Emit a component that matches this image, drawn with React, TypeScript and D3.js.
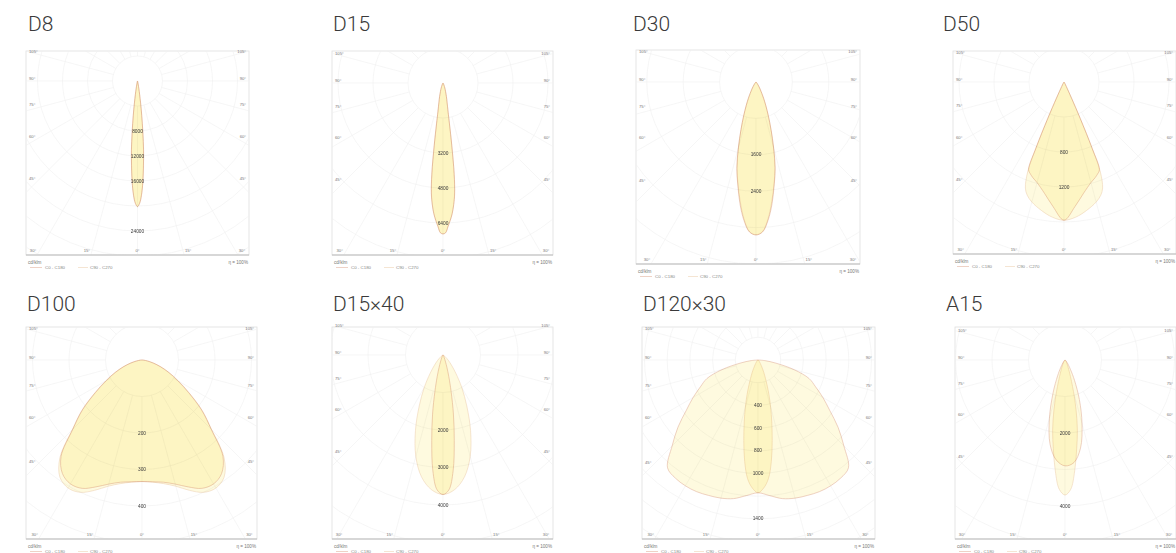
import React from 'react';
import * as d3 from 'd3';

// ---------------- data ----------------
const titles = ['D8', 'D15', 'D30', 'D50', 'D100', 'D15×40', 'D120×30', 'A15'];

// D8
const d8Angles = [0, 1, 2, 3, 4, 5, 6, 7, 8, 9, 10, 12, 15, 20, 30, 45, 60, 90];
const d8C0 = [20100, 19600, 18300, 16200, 13600, 11200, 8200, 5600, 3600, 2200, 1300, 500, 200, 80, 30, 10, 4, 0];
const d8C90 = [20100, 19500, 18200, 16300, 13800, 11000, 8000, 5500, 3500, 2100, 1250, 480, 190, 75, 28, 9, 3, 0];
const d8Ticks = [8000, 12000, 16000, 24000];

// D15
const d15Angles = [0, 1, 2, 3, 4, 5, 6, 7, 8, 9, 10, 12, 14, 17, 20, 25, 30, 45, 60, 90];
const d15C0 = [6900, 6850, 6570, 6300, 6000, 5600, 5100, 4200, 2900, 1900, 1350, 900, 650, 400, 250, 100, 40, 10, 3, 0];
const d15C90 = [6900, 6840, 6560, 6280, 5980, 5580, 5050, 4150, 2850, 1880, 1330, 880, 640, 390, 240, 95, 38, 9, 3, 0];
const d15Ticks = [3200, 4800, 6400];

// D30
const d30Angles = [0, 2.5, 5, 7.5, 10, 12.5, 15, 17.5, 20, 22.5, 25, 30, 35, 40, 50, 60, 90];
const d30C0 = [3360, 3300, 3050, 2700, 2300, 1950, 1500, 1100, 800, 570, 400, 180, 80, 35, 10, 3, 0];
const d30C90 = [3360, 3290, 3020, 2650, 2280, 1920, 1480, 1090, 790, 560, 390, 175, 78, 34, 10, 3, 0];
const d30Ticks = [1600, 2400];

// D50
const d50Angles = [0, 5, 10, 15, 18, 20, 22, 23, 24, 25, 27, 30, 40, 90];
const d50C0 = [1580, 1430, 1290, 1190, 1150, 1120, 1080, 820, 460, 200, 60, 20, 5, 0];
const d50C90 = [1580, 1550, 1490, 1420, 1360, 1290, 1110, 820, 460, 210, 60, 20, 5, 0];
const d50Ticks = [800, 1200];

// D100
const d100Angles = [0, 5, 10, 15, 20, 25, 30, 35, 40, 45, 50, 55, 60, 65, 70, 75, 80, 85, 90];
const d100C0 = [333, 335, 340, 352, 370, 388, 392, 380, 345, 268, 215, 158, 115, 82, 55, 32, 15, 5, 0];
const d100C90 = [333, 336, 344, 358, 380, 400, 405, 392, 350, 270, 212, 155, 112, 80, 53, 31, 14, 5, 0];
const d100Ticks = [200, 300, 400];

// D15x40
const d1540AnglesC0 = [0, 2.5, 5, 7.5, 10, 12.5, 15, 17.5, 20, 25, 30, 40, 60, 90];
const d1540C0 = [3720, 3600, 3100, 2300, 1600, 1000, 600, 350, 200, 80, 30, 10, 2, 0];
const d1540AnglesC90 = [0, 5, 10, 15, 20, 25, 30, 35, 40, 45, 50, 60, 70, 90];
const d1540C90 = [3720, 3600, 3300, 2800, 2150, 1500, 1000, 600, 350, 200, 100, 30, 10, 0];
const d1540Ticks = [2000, 3000, 4000];

// D120x30
const d12030AnglesC0 = [0, 5, 10, 15, 20, 25, 30, 35, 40, 45, 50, 55, 60, 65, 70, 75, 80, 85, 90];
const d12030C0 = [1170, 1200, 1240, 1260, 1270, 1280, 1280, 1270, 1240, 1070, 920, 770, 660, 560, 480, 330, 160, 60, 0];
const d12030AnglesC90 = [0, 2.5, 5, 7.5, 10, 12.5, 15, 17.5, 20, 25, 30, 40, 60, 90];
const d12030C90 = [1170, 1130, 1050, 900, 720, 560, 430, 320, 230, 120, 60, 20, 5, 0];
const d12030Ticks = [400, 600, 800, 1000, 1400];

// A15 (asymmetric)
const a15AnglesC0 = [0, 5, 10, 15, 20, 25, 30, 40, 60, 90];
const a15C0Right = [2900, 2820, 2450, 1800, 1150, 620, 300, 90, 15, 0];
const a15C0Left = [2900, 2750, 2350, 1650, 950, 480, 230, 60, 10, 0];
const a15AnglesC90 = [0, 2.5, 5, 7.5, 10, 12.5, 15, 20, 30, 45, 90];
const a15C90 = [3700, 3550, 3050, 2450, 1950, 1400, 900, 350, 90, 20, 0];
const a15Ticks = [2000, 4000];

const sideAngleLabels = [105, 90, 75, 60, 45];
const bottomAngleLabels = [-30, -15, 0, 15, 30];
const legendC0 = 'C0 - C180';
const legendC90 = 'C90 - C270';
const unitLabel = 'cd/klm';
const effLabel = 'η = 100%';

type Series = { angles: number[]; right: number[]; left?: number[] };

const panelSeries: { c0: Series; c90: Series; ticks: number[] }[] = [
  { c0: { angles: d8Angles, right: d8C0 }, c90: { angles: d8Angles, right: d8C90 }, ticks: d8Ticks },
  { c0: { angles: d15Angles, right: d15C0 }, c90: { angles: d15Angles, right: d15C90 }, ticks: d15Ticks },
  { c0: { angles: d30Angles, right: d30C0 }, c90: { angles: d30Angles, right: d30C90 }, ticks: d30Ticks },
  { c0: { angles: d50Angles, right: d50C0 }, c90: { angles: d50Angles, right: d50C90 }, ticks: d50Ticks },
  { c0: { angles: d100Angles, right: d100C0 }, c90: { angles: d100Angles, right: d100C90 }, ticks: d100Ticks },
  { c0: { angles: d1540AnglesC0, right: d1540C0 }, c90: { angles: d1540AnglesC90, right: d1540C90 }, ticks: d1540Ticks },
  { c0: { angles: d12030AnglesC0, right: d12030C0 }, c90: { angles: d12030AnglesC90, right: d12030C90 }, ticks: d12030Ticks },
  { c0: { angles: a15AnglesC0, right: a15C0Right, left: a15C0Left }, c90: { angles: a15AnglesC90, right: a15C90 }, ticks: a15Ticks },
];

// ---------------- layout ----------------
const layout = [
  { tx: 28, ty: 31, x: 26, y: 51, w: 223, h: 204, cx: 137.5, cy: 81, step: 4000, stepPx: 25 },
  { tx: 333, ty: 31, x: 332, y: 51, w: 221, h: 204, cx: 443, cy: 83, step: 1600, stepPx: 35 },
  { tx: 633, ty: 31, x: 636, y: 50, w: 224, h: 214, cx: 756, cy: 82, step: 800, stepPx: 36.4 },
  { tx: 943, ty: 31, x: 953, y: 51, w: 223, h: 203, cx: 1064, cy: 82, step: 400, stepPx: 35 },
  { tx: 27, ty: 311, x: 26, y: 327, w: 231, h: 212, cx: 142, cy: 360, step: 100, stepPx: 36.5 },
  { tx: 333, ty: 311, x: 332, y: 327, w: 221, h: 212, cx: 443, cy: 355, step: 1000, stepPx: 37.5 },
  { tx: 643, ty: 311, x: 642, y: 327, w: 233, h: 212, cx: 758, cy: 360, step: 200, stepPx: 22.7 },
  { tx: 946, ty: 311, x: 955, y: 327, w: 221, h: 212, cx: 1065, cy: 360, step: 1000, stepPx: 36.5 },
];

const FILL = '#fefadf';
const STROKE_C0 = '#e2b4a0';
const STROKE_C90 = '#efd3b6';
const GRID = '#f0f0f0';
const SMALL_FONT = '"Liberation Sans", Arial, sans-serif';

type Pt = { a: number; v: number };

function buildPoints(s: Series): Pt[] {
  const left = s.left ?? s.right;
  const pts: Pt[] = [];
  for (let i = s.angles.length - 1; i >= 1; i--) pts.push({ a: -s.angles[i], v: left[i] });
  for (let i = 0; i < s.angles.length; i++) pts.push({ a: s.angles[i], v: s.right[i] });
  return pts;
}

function Panel({ idx }: { idx: number }) {
  const L = layout[idx];
  const S = panelSeries[idx];
  const r = d3.scaleLinear().domain([0, L.step]).range([0, L.stepPx]);
  const line = d3
    .lineRadial<Pt>()
    .angle((p) => Math.PI - (p.a * Math.PI) / 180)
    .radius((p) => r(p.v))
    .curve(d3.curveCatmullRom.alpha(0.5));
  const right = L.x + L.w;
  const bottom = L.y + L.h;
  const maxD = Math.max(
    Math.hypot(L.x - L.cx, L.y - L.cy),
    Math.hypot(right - L.cx, L.y - L.cy),
    Math.hypot(L.x - L.cx, bottom - L.cy),
    Math.hypot(right - L.cx, bottom - L.cy)
  );
  const nCircles = Math.ceil(maxD / L.stepPx);
  const circles = d3.range(1, nCircles + 1);
  const radials = d3.range(0, 360, 15);
  const clipId = `clip-${idx}`;
  const hw = L.w / 2;
  const sideL = hw - 11;
  const pathC0 = (line(buildPoints(S.c0)) ?? '') + 'Z';
  const pathC90 = (line(buildPoints(S.c90)) ?? '') + 'Z';

  return (
    <g>
      <text x={L.tx} y={L.ty} fontFamily="Roboto, sans-serif" fontWeight={300} fontSize={21} fill="#3a3a3a">
        {titles[idx]}
      </text>
      <defs>
        <clipPath id={clipId}>
          <rect x={L.x} y={L.y} width={L.w} height={L.h} />
        </clipPath>
      </defs>
      <rect x={L.x} y={L.y} width={L.w} height={L.h} fill="#fff" stroke="#dedede" strokeWidth={0.8} />
      <g clipPath={`url(#${clipId})`}>
        <g transform={`translate(${L.cx},${L.cy})`}>
          {circles.map((k) => (
            <circle key={k} r={k * L.stepPx} fill="none" stroke={GRID} strokeWidth={0.6} />
          ))}
          {radials.map((g) => {
            const rad = (g * Math.PI) / 180;
            const r0 = L.stepPx;
            const r1 = maxD + 5;
            return (
              <line
                key={g}
                x1={r0 * Math.sin(rad)}
                y1={r0 * Math.cos(rad)}
                x2={r1 * Math.sin(rad)}
                y2={r1 * Math.cos(rad)}
                stroke={GRID}
                strokeWidth={0.6}
              />
            );
          })}
          <path d={pathC90} fill={FILL} stroke={STROKE_C90} strokeWidth={0.6} style={{ mixBlendMode: 'multiply' }} />
          <path d={pathC0} fill={FILL} stroke={STROKE_C0} strokeWidth={0.6} style={{ mixBlendMode: 'multiply' }} />
          {S.ticks.map((t) => (
            <text
              key={t}
              x={0}
              y={r(t)}
              textAnchor="middle"
              dominantBaseline="central"
              fontFamily={SMALL_FONT}
              fontSize={4.8}
              fill="#3a3a3a"
            >
              {t}
            </text>
          ))}
        </g>
      </g>
      {sideAngleLabels.map((g) => {
        const y = L.cy + sideL / Math.tan((g * Math.PI) / 180) - 1.5;
        return (
          <g key={g}>
            <text x={L.x + 3} y={y} fontFamily={SMALL_FONT} fontSize={4.2} fill="#777">
              {g}°
            </text>
            <text x={right - 3} y={y} textAnchor="end" fontFamily={SMALL_FONT} fontSize={4.2} fill="#777">
              {g}°
            </text>
          </g>
        );
      })}
      {bottomAngleLabels.map((g) => {
        const dy = bottom - L.cy;
        let x = L.cx + dy * Math.tan((g * Math.PI) / 180) + Math.sign(g) * 4;
        x = Math.max(L.x + 7, Math.min(right - 7, x));
        return (
          <text key={g} x={x} y={bottom - 3} textAnchor="middle" fontFamily={SMALL_FONT} fontSize={4.2} fill="#777">
            {Math.abs(g)}°
          </text>
        );
      })}
      <line x1={L.x} x2={right} y1={bottom} y2={bottom} stroke="#bcbcbc" strokeWidth={1.2} />
      <text x={L.x + 2} y={bottom + 8.5} fontFamily={SMALL_FONT} fontSize={4.6} fill="#777">
        {unitLabel}
      </text>
      <text x={right - 1} y={bottom + 8.5} textAnchor="end" fontFamily={SMALL_FONT} fontSize={4.6} fill="#777">
        {effLabel}
      </text>
      <line x1={L.x + 4} x2={L.x + 16} y1={bottom + 12.5} y2={bottom + 12.5} stroke={STROKE_C0} strokeWidth={0.6} />
      <text x={L.x + 19} y={bottom + 14} fontFamily={SMALL_FONT} fontSize={4.4} fill="#888">
        {legendC0}
      </text>
      <line x1={L.x + 52} x2={L.x + 62} y1={bottom + 12.5} y2={bottom + 12.5} stroke={STROKE_C90} strokeWidth={0.6} />
      <text x={L.x + 64} y={bottom + 14} fontFamily={SMALL_FONT} fontSize={4.4} fill="#888">
        {legendC90}
      </text>
    </g>
  );
}

export default function App() {
  return (
    <div style={{ position: 'absolute', left: 0, top: 0, width: 1176, height: 553, background: '#fff' }}>
      <svg width={1176} height={553} viewBox="0 0 1176 553" style={{ display: 'block' }}>
        <rect x={0} y={0} width={1176} height={553} fill="#fff" />
        {layout.map((_, i) => (
          <Panel key={i} idx={i} />
        ))}
      </svg>
    </div>
  );
}
